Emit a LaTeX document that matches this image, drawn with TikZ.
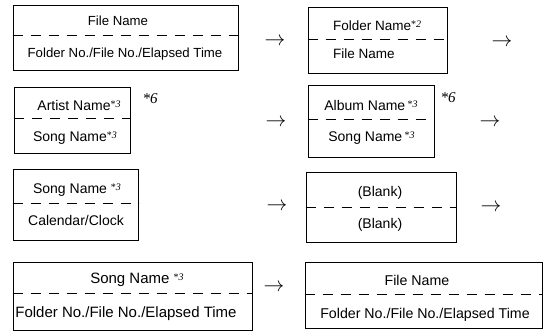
\documentclass[tikz,border=0pt]{standalone}
\usepackage{fontspec}
\setmainfont{Liberation Sans}
\newfontfamily\seriffont{Liberation Serif}
\newcommand\nt[1]{{\seriffont\fontsize{10}{10}\selectfont\raisebox{0.5ex}{*\textit{#1}}}}
\newcommand\fs[1]{\fontsize{#1}{#1}\selectfont}
\begin{document}
\begin{tikzpicture}[x=1pt,y=-1pt,
  box/.style={draw, line width=1pt, inner sep=0pt},
  sep/.style={line width=0.9pt, dash pattern=on 10pt off 8pt},
  txt/.style={inner sep=0pt, anchor=base},
  arr/.style={inner sep=0pt, font=\fs{21}},
  star/.style={inner sep=0pt, anchor=base, font=\seriffont\itshape\fs{15}}]
\useasboundingbox (0,0) rectangle (543,335);
% row 1
\node[box, minimum width=225pt, minimum height=65pt] (b1) at (125.5,37.5) {};
\draw[sep] ([yshift=2.5pt]b1.west) -- ([yshift=2.5pt]b1.east);
\node[txt, font=\fs{13.2}] (b1t) at (118,25) {File Name};
\node[txt, font=\fs{13.2}] (b1b) at (125,57) {Folder No./File No./Elapsed Time};
\node[arr] (a1) at (275,42) {$\rightarrow$};
\node[box, minimum width=139pt, minimum height=66pt] (b2) at (377.5,40) {};
\draw[sep] ([yshift=1pt]b2.west) -- ([yshift=1pt]b2.east);
\node[txt, anchor=base west, font=\fs{13.5}] (b2t) at (333,30) {Folder Name\nt{2}};
\node[txt, anchor=base west, font=\fs{13.5}] (b2b) at (333,58) {File Name};
\node[arr] (a2) at (502,43) {$\rightarrow$};
% row 2
\node[box, minimum width=116pt, minimum height=66pt] (b3) at (72,120) {};
\draw[sep] ([yshift=2pt]b3.west) -- ([yshift=2pt]b3.east);
\node[txt, font=\fs{14}] (b3t) at (79,110) {Artist Name\nt{3}};
\node[txt, font=\fs{14}] (b3b) at (75,141) {Song Name\nt{3}};
\node[star] (s3) at (150,103) {*6};
\node[arr] (a3) at (276,123) {$\rightarrow$};
\node[box, minimum width=126pt, minimum height=72pt] (b4) at (371,121) {};
\draw[sep] ([yshift=2pt]b4.west) -- ([yshift=2pt]b4.east);
\node[txt, font=\fs{14}] (b4t) at (371,110) {Album Name\,\nt{3}};
\node[txt, font=\fs{14}] (b4b) at (371.5,141) {Song Name\,\nt{3}};
\node[star] (s4) at (448,102) {*6};
\node[arr] (a4) at (490,123) {$\rightarrow$};
% row 3
\node[box, minimum width=125pt, minimum height=71pt] (b5) at (75.5,204.5) {};
\draw[sep] ([yshift=1.5pt]b5.west) -- ([yshift=1.5pt]b5.east);
\node[txt, font=\fs{14}] (b5t) at (77,193) {Song Name \nt{3}};
\node[txt, font=\fs{14}] (b5b) at (76,225) {Calendar/Clock};
\node[arr] (a5) at (277,207) {$\rightarrow$};
\node[box, minimum width=150pt, minimum height=70pt] (b6) at (381,207) {};
\draw[sep] (b6.west) -- (b6.east);
\node[txt, font=\fs{14}] (b6t) at (380,196) {(Blank)};
\node[txt, font=\fs{14}] (b6b) at (380,228) {(Blank)};
\node[arr] (a6) at (491,208) {$\rightarrow$};
% row 4
\node[box, minimum width=239pt, minimum height=68pt] (b7) at (132.5,296) {};
\draw[sep] ([yshift=3pt]b7.west) -- ([yshift=3pt]b7.east);
\node[txt, font=\fs{15}] (b7t) at (137,283) {Song Name \nt{3}};
\node[txt, font=\fs{15}] (b7b) at (126,317) {Folder No./File No./Elapsed Time};
\node[arr] (a7) at (274,288) {$\rightarrow$};
\node[box, minimum width=237pt, minimum height=66pt] (b8) at (423.5,295) {};
\draw[sep] ([yshift=1pt]b8.west) -- ([yshift=1pt]b8.east);
\node[txt, font=\fs{14.2}] (b8t) at (417,285) {File Name};
\node[txt, font=\fs{14.2}] (b8b) at (425,318) {Folder No./File No./Elapsed Time};
\end{tikzpicture}
\end{document}
